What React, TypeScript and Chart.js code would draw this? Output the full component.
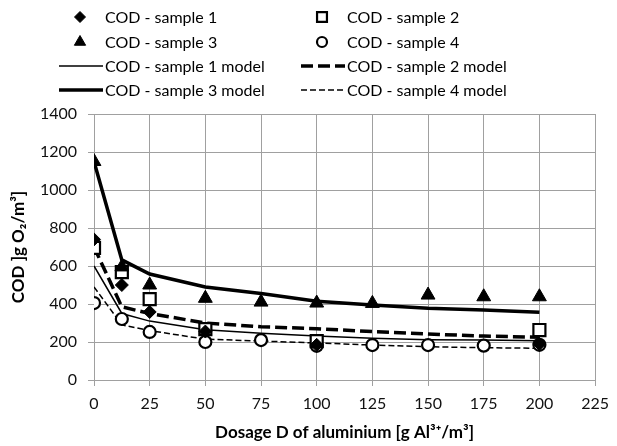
import React, { useEffect, useRef } from 'react';
import { Chart, registerables } from 'chart.js';
import { drawPoint } from 'chart.js/helpers';

Chart.register(...registerables);

// ---- data ----
const doseAll = [0, 12.5, 25, 50, 75, 100, 125, 150, 175, 200];
const doseS12 = [0, 12.5, 25, 50, 100, 200];
const codSample1 = [740, 500, 358, 255, 185, 190];
const codSample2 = [695, 568, 426, 268, 205, 263];
const codSample3 = [1150, 595, 500, 430, 410, 405, 403, 447, 438, 438];
const codSample4 = [405, 321, 253, 200, 210, 180, 184, 184, 181, 185];
const model1 = [600, 350, 310, 265, 246, 232, 220, 212, 210, 207];
const model2 = [700, 385, 350, 300, 280, 270, 255, 242, 231, 225];
const model3 = [1150, 632, 558, 490, 455, 415, 395, 378, 368, 356];
const model4 = [490, 290, 260, 215, 205, 195, 184, 175, 170, 167];
const xMin = 0;
const xMax = 225;
const xStep = 25;
const yMin = 0;
const yMax = 1400;
const yStep = 200;
const labels = [
  'COD - sample 1',
  'COD - sample 2',
  'COD - sample 3',
  'COD - sample 4',
  'COD - sample 1 model',
  'COD - sample 2 model',
  'COD - sample 3 model',
  'COD - sample 4 model',
];
const yTitle = 'COD ]g O\u2082/m\u00B3]';
const xTitle = 'Dosage D of aluminium [g Al\u00B3\u207A/m\u00B3]';

const pts = (xs: number[], ys: number[]) => xs.map((x, i) => ({ x, y: ys[i] }));

const FONT = 'Lato, "Open Sans", sans-serif';

const legendPlugin = {
  id: 'gridLegend',
  afterDraw(chart: any) {
    const ctx = chart.ctx;
    const rows = [17, 42, 66, 90];
    const markerX = [80, 322];
    const textX = [105, 347];
    const lineX = [[59, 103], [301, 345]];
    ctx.save();
    ctx.font = '16px ' + FONT;
    ctx.textBaseline = 'middle';
    ctx.textAlign = 'left';
    chart.data.datasets.forEach((ds: any, i: number) => {
      const col = i % 2;
      const row = Math.floor(i / 2);
      const y = rows[row];
      ctx.save();
      ctx.strokeStyle = '#000';
      ctx.fillStyle = ds.backgroundColor;
      if (ds.showLine) {
        ctx.lineWidth = ds.borderWidth;
        ctx.setLineDash(ds.borderDash || []);
        ctx.beginPath();
        ctx.moveTo(lineX[col][0], y);
        ctx.lineTo(lineX[col][1], y);
        ctx.stroke();
      } else {
        ctx.lineWidth = ds.borderWidth;
        drawPoint(ctx, {
          pointStyle: ds.pointStyle,
          radius: ds.legendRadius,
          rotation: 0,
          borderWidth: ds.borderWidth,
        } as any, markerX[col], y);
      }
      ctx.restore();
      ctx.fillStyle = '#000';
      ctx.fillText(ds.label, textX[col], y + 1);
    });
    ctx.restore();
  },
};

export default function App() {
  const ref = useRef<HTMLCanvasElement | null>(null);
  useEffect(() => {
    if (!ref.current) return;
    const markerBase = { showLine: false, borderColor: '#000', pointBorderColor: '#000' };
    const lineBase = { showLine: true, borderColor: '#000', pointRadius: 0, fill: false, tension: 0, backgroundColor: '#000' };
    const chart = new Chart(ref.current, {
      type: 'scatter',
      data: {
        datasets: [
          { ...markerBase, order: 1, label: labels[0], data: pts(doseS12, codSample1), pointStyle: 'rectRot', pointRadius: 6.5, legendRadius: 5.5, backgroundColor: '#000', pointBackgroundColor: '#000', borderWidth: 1 } as any,
          { ...markerBase, order: 2, label: labels[1], data: pts(doseS12, codSample2), pointStyle: 'rect', pointRadius: 8.5, legendRadius: 7, backgroundColor: '#fff', pointBackgroundColor: '#fff', borderWidth: 2.2 } as any,
          { ...markerBase, order: 0, label: labels[2], data: pts(doseAll, codSample3), pointStyle: 'triangle', pointRadius: 8, legendRadius: 6.5, backgroundColor: '#000', pointBackgroundColor: '#000', borderWidth: 1 } as any,
          { ...markerBase, order: 3, label: labels[3], data: pts(doseAll, codSample4), pointStyle: 'circle', pointRadius: 6, legendRadius: 5, backgroundColor: '#fff', pointBackgroundColor: '#fff', borderWidth: 2.2 } as any,
          { ...lineBase, order: 4, label: labels[4], data: pts(doseAll, model1), borderWidth: 1.5 } as any,
          { ...lineBase, order: 5, label: labels[5], data: pts(doseAll, model2), borderWidth: 3.5, borderDash: [12, 5] } as any,
          { ...lineBase, order: 6, label: labels[6], data: pts(doseAll, model3), borderWidth: 3.5 } as any,
          { ...lineBase, order: 7, label: labels[7], data: pts(doseAll, model4), borderWidth: 1.5, borderDash: [6, 3] } as any,
        ],
      },
      options: {
        animation: false,
        responsive: false,
        maintainAspectRatio: false,
        layout: { padding: { top: 114, right: 15, left: 0, bottom: 0 } },
        plugins: {
          legend: { display: false },
          tooltip: { enabled: false },
        },
        scales: {
          x: {
            type: 'linear',
            min: xMin,
            max: xMax,
            ticks: { stepSize: xStep, color: '#111', font: { family: FONT, size: 16 }, padding: 8, maxRotation: 0, callback: (v: any) => String(v) },
            grid: { color: '#a0a0a0', lineWidth: 1, tickLength: 6, drawTicks: true },
            border: { color: '#a0a0a0', width: 1 },
            title: { display: true, text: xTitle, color: '#000', font: { family: FONT, size: 17, weight: 'bold' }, padding: { top: 0, bottom: 3 } },
            afterFit: (s: any) => { s.height = 66; },
          },
          y: {
            type: 'linear',
            min: yMin,
            max: yMax,
            ticks: { stepSize: yStep, color: '#111', font: { family: FONT, size: 16 }, padding: 11, callback: (v: any) => String(v) },
            grid: { color: '#a0a0a0', lineWidth: 1, tickLength: 6, drawTicks: true },
            border: { color: '#a0a0a0', width: 1 },
            title: { display: true, text: yTitle, color: '#000', font: { family: FONT, size: 17, weight: 'bold' }, padding: { top: 8, bottom: 0 } },
            afterFit: (s: any) => { s.width = 94; },
          },
        },
      } as any,
      plugins: [legendPlugin],
    });
    return () => chart.destroy();
  }, []);
  return (
    <div style={{ position: 'fixed', left: 0, top: 0, width: 617, height: 446, background: '#fff' }}>
      <canvas ref={ref} width={617} height={446} style={{ width: 617, height: 446, display: 'block' }} />
    </div>
  );
}
